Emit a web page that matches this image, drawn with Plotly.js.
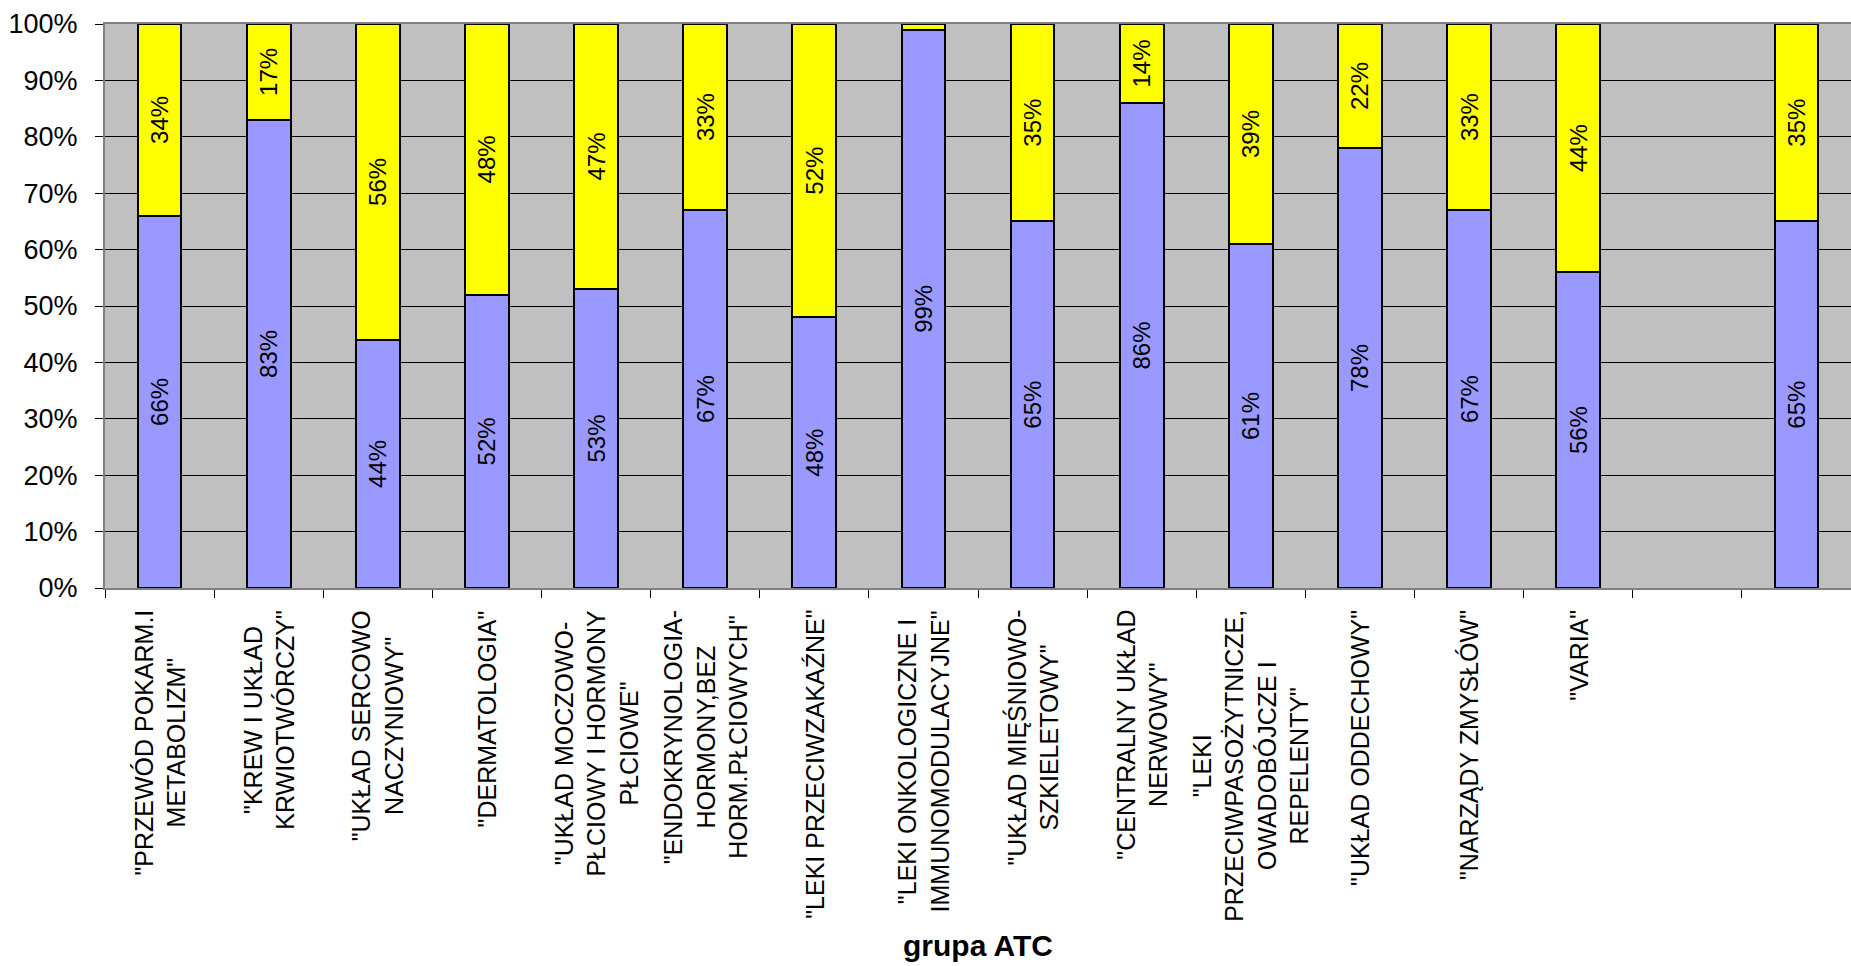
<!DOCTYPE html>
<html>
<head>
<meta charset="utf-8">
<script src="https://cdn.plot.ly/plotly-3.0.1.min.js"></script>
<style>html,body{margin:0;padding:0;background:#fff;}#chart{width:1851px;height:966px;}</style>
</head>
<body>
<div id="chart"></div>
<script>
const categories = ["c1","c2","c3","c4","c5","c6","c7","c8","c9","c10","c11","c12","c13","c14"," ","  "];
const categoryLabels = [
  '"PRZEWÓD POKARM.I<br>METABOLIZM"',
  '"KREW I UKŁAD<br>KRWIOTWÓRCZY"',
  '"UKŁAD SERCOWO<br>NACZYNIOWY"',
  '"DERMATOLOGIA"',
  '"UKŁAD MOCZOWO-<br>PŁCIOWY I HORMONY<br>PŁCIOWE"',
  '"ENDOKRYNOLOGIA-<br>HORMONY,BEZ<br>HORM.PŁCIOWYCH"',
  '"LEKI PRZECIWZAKAŹNE"',
  '"LEKI ONKOLOGICZNE I<br>IMMUNOMODULACYJNE"',
  '"UKŁAD MIĘŚNIOWO-<br>SZKIELETOWY"',
  '"CENTRALNY UKŁAD<br>NERWOWY"',
  '"LEKI<br>PRZECIWPASOŻYTNICZE,<br>OWADOBÓJCZE I<br>REPELENTY"',
  '"UKŁAD ODDECHOWY"',
  '"NARZĄDY ZMYSŁÓW"',
  '"VARIA"',
  '',
  ''
];
const bluePct   = [66, 83, 44, 52, 53, 67, 48, 99, 65, 86, 61, 78, 67, 56, null, 65];
const yellowPct = [34, 17, 56, 48, 47, 33, 52, 1, 35, 14, 39, 22, 33, 44, null, 35];
const yTickVals = [0,10,20,30,40,50,60,70,80,90,100];

const FONT = 'Arial, "Liberation Sans", sans-serif';
const lbl = v => (v === null || v < 5) ? '' : v + '%';

const common = {
  type: 'bar',
  x: categories,
  textposition: 'inside',
  insidetextanchor: 'middle',
  textangle: -90,
  constraintext: 'none',
  textfont: {family: FONT, size: 24, color: '#000'},
  hoverinfo: 'skip'
};

const traces = [
  Object.assign({}, common, {
    y: bluePct, text: bluePct.map(lbl),
    marker: {color: '#9999FF', line: {color: '#000', width: 2}}
  }),
  Object.assign({}, common, {
    y: yellowPct, text: yellowPct.map(lbl),
    marker: {color: '#FFFF00', line: {color: '#000', width: 2}}
  })
];

const annotations = categories.map((c, i) => ({
  x: c, xref: 'x', y: 0, yref: 'paper',
  yanchor: 'top', xanchor: 'center', yshift: -20,
  text: categoryLabels[i], textangle: -90, align: 'center', showarrow: false,
  font: {family: FONT, size: 25, color: '#000'}
}));

const layout = {
  width: 1851, height: 966,
  margin: {l: 105, r: 0, t: 24, b: 378},
  paper_bgcolor: '#fff', plot_bgcolor: '#C0C0C0',
  barmode: 'stack', bargap: 0.6,
  showlegend: false,
  font: {family: FONT, color: '#000'},
  xaxis: {
    type: 'category', showticklabels: false, showgrid: false,
    tickson: 'boundaries', ticks: 'outside', ticklen: 8, tickcolor: '#000', tickwidth: 1,
    showline: true, linecolor: '#808080', linewidth: 2, mirror: true,
    range: [-0.5, 15.5], fixedrange: true,
    title: {text: 'grupa ATC', font: {family: FONT, size: 30, color: '#000', weight: 'bold'}, standoff: 346}
  },
  yaxis: {
    range: [0, 100], tickvals: yTickVals, ticktext: yTickVals.map(v => v + '%'),
    showgrid: true, gridcolor: '#000', gridwidth: 1, zeroline: false,
    ticks: 'outside', ticklen: 8, tickcolor: '#000', tickwidth: 1,
    ticklabelstandoff: 12,
    tickfont: {family: FONT, size: 27, color: '#000'},
    showline: true, linecolor: '#808080', linewidth: 2, mirror: true, fixedrange: true
  },
  annotations: annotations
};

Plotly.newPlot('chart', traces, layout, {displayModeBar: false, staticPlot: true});
</script>
</body>
</html>
